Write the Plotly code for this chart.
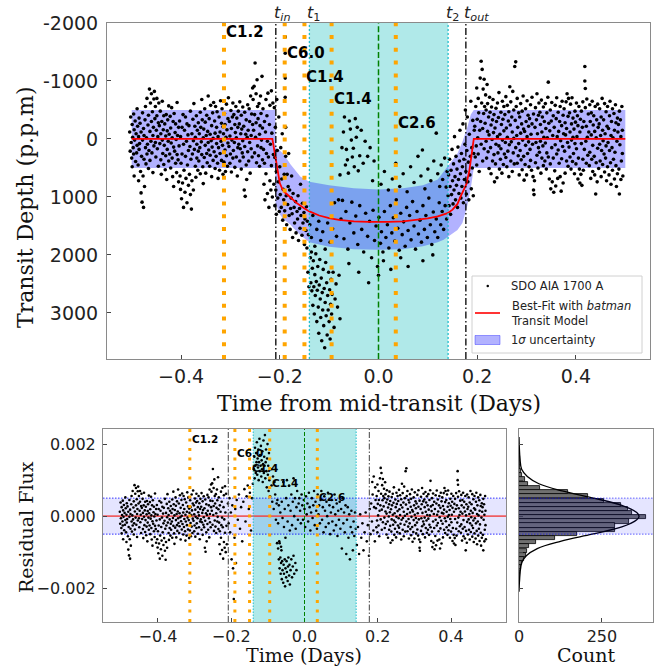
import plotly.graph_objects as go
import numpy as np

# ------------------------------------------------------------------ data
flare_times = [-0.313, -0.190, -0.150, -0.095, 0.035]
flare_classes = ["C1.2", "C6.0", "C1.4", "C1.4", "C2.6"]
flare_label_depth = [-1850, -1480, -1070, -690, -280]
flare_label_resid = [0.00214, 0.00175, 0.00133, 0.00092, 0.00053]

t_in, t_1, t_2, t_out = -0.208, -0.140, 0.141, 0.177
contact_times = [t_in, t_1, t_2, t_out]
contact_labels = ["<i>t</i><sub><i>in</i></sub>", "<i>t</i><sub>1</sub>",
                  "<i>t</i><sub>2</sub>", "<i>t</i><sub><i>out</i></sub>"]

x_ticks = [-0.4, -0.2, 0.0, 0.2, 0.4]
x_tick_text = ["\u22120.4", "\u22120.2", "0.0", "0.2", "0.4"]
depth_ticks = [-2000, -1000, 0, 1000, 2000, 3000]
depth_tick_text = ["-2000", "-1000", "0", "1000", "2000", "3000"]
resid_ticks = [0.002, 0.0, -0.002]
resid_tick_text = ["0.002", "0.000", "\u22120.002"]
count_ticks = [0, 250]

sigma_resid = 0.0005

model_time = [-0.50, -0.215, -0.210, -0.205, -0.200, -0.195, -0.190, -0.178, -0.165, -0.150,
              -0.140, -0.120, -0.100, -0.080, -0.050, -0.020, 0.000, 0.020, 0.050, 0.080,
              0.100, 0.120, 0.140, 0.150, 0.160, 0.166, 0.172, 0.178, 0.184, 0.189, 0.193, 0.50]
model_depth = [0, 0, 250, 520, 760, 860, 920, 1010, 1110, 1200,
               1250, 1320, 1365, 1395, 1420, 1430, 1432, 1430, 1420, 1395,
               1370, 1335, 1280, 1220, 1120, 1000, 900, 780, 550, 250, 0, 0]

band_time = [-0.50, -0.209, -0.2085, -0.200, -0.193, -0.178, -0.172, -0.158, -0.140, -0.100,
             -0.050, 0.000, 0.050, 0.090, 0.120, 0.132, 0.145, 0.160, 0.170, 0.180,
             0.187, 0.193, 0.50]
band_upper = [-500, -500, 140, 200, 250, 440, 500, 650, 740, 800,
              850, 870, 850, 800, 700, 560, 420, 250, 50, -200,
              -420, -500, -500]
band_lower = [500, 500, 1100, 1300, 1380, 1480, 1540, 1660, 1780, 1860,
              1900, 1910, 1900, 1850, 1780, 1740, 1660, 1570, 1450, 1150,
              850, 500, 500]

pre_points = [
 (-0.504,-120),(-0.503,210),(-0.502,-380),(-0.501,60),(-0.500,330),(-0.499,-250),(-0.499,480),(-0.498,-30),(-0.497,150),(-0.496,-430),(-0.496,260),(-0.495,-160),(-0.495,640),
 (-0.494,20),(-0.493,-310),(-0.492,390),(-0.491,-90),(-0.490,240),(-0.489,-520),(-0.489,110),(-0.488,-220),(-0.487,450),(-0.486,-40),(-0.486,720),(-0.485,-360),(-0.485,180),
 (-0.484,80),(-0.483,-270),(-0.482,560),(-0.481,930),(-0.481,-120),(-0.480,300),(-0.479,1090),(-0.478,-450),(-0.478,20),(-0.477,640),(-0.476,-180),(-0.476,1180),(-0.475,350),(-0.475,-60),
 (-0.474,820),(-0.473,-330),(-0.472,150),(-0.472,-560),(-0.471,430),(-0.470,-20),(-0.469,260),(-0.469,-700),(-0.468,90),(-0.467,-240),(-0.466,510),(-0.466,-410),(-0.465,200),
 (-0.464,-860),(-0.463,-130),(-0.463,370),(-0.462,-620),(-0.461,40),(-0.460,-780),(-0.460,-300),(-0.459,240),(-0.458,-470),(-0.457,-60),(-0.457,580),(-0.456,-200),(-0.455,120),(-0.455,-690),
 (-0.454,-820),(-0.453,-350),(-0.452,60),(-0.452,-560),(-0.451,310),(-0.450,-150),(-0.449,-700),(-0.449,-400),(-0.448,170),(-0.447,-40),(-0.446,-280),(-0.446,470),(-0.445,-620),
 (-0.444,-230),(-0.443,80),(-0.442,-480),(-0.441,360),(-0.441,-90),(-0.440,610),(-0.439,-300),(-0.438,20),(-0.438,-650),(-0.437,250),(-0.436,-160),(-0.435,440),(-0.435,-400),
 (-0.434,110),(-0.433,-260),(-0.432,530),(-0.431,-50),(-0.431,290),(-0.430,-420),(-0.429,700),(-0.428,-140),(-0.428,180),(-0.427,-330),(-0.426,40),(-0.425,380),(-0.425,-570),
 (-0.424,-80),(-0.423,260),(-0.422,-390),(-0.421,500),(-0.421,-190),(-0.420,70),(-0.419,-540),(-0.418,330),(-0.418,-20),(-0.417,650),(-0.416,-300),(-0.415,140),(-0.415,820),
 (-0.414,-440),(-0.413,210),(-0.412,-110),(-0.411,420),(-0.411,-260),(-0.410,10),(-0.409,580),(-0.408,-630),(-0.408,270),(-0.407,-60),(-0.406,360),(-0.405,-200),(-0.405,740),
 (-0.404,120),(-0.403,-310),(-0.402,640),(-0.401,870),(-0.401,-40),(-0.400,420),(-0.399,1030),(-0.398,-200),(-0.398,260),(-0.397,760),(-0.396,-420),(-0.395,1180),(-0.395,90),
 (-0.394,540),(-0.393,-150),(-0.392,920),(-0.391,300),(-0.391,-380),(-0.390,680),(-0.389,40),(-0.388,1100),(-0.388,-260),(-0.387,450),(-0.386,-70),(-0.385,800),(-0.385,200),
 (-0.384,-230),(-0.383,610),(-0.382,130),(-0.381,960),(-0.381,-480),(-0.380,350),(-0.379,1210),(-0.378,-90),(-0.378,720),(-0.377,260),(-0.376,-340),(-0.375,880),(-0.375,30),
 (-0.374,-610),(-0.373,180),(-0.372,-220),(-0.371,470),(-0.371,-30),(-0.370,660),(-0.369,-400),(-0.368,90),(-0.368,330),(-0.367,-150),(-0.366,540),(-0.365,-280),(-0.365,210),
 (-0.364,380),(-0.363,-90),(-0.362,150),(-0.361,-460),(-0.361,600),(-0.360,-200),(-0.359,50),(-0.358,-680),(-0.358,270),(-0.357,-330),(-0.356,480),(-0.355,-20),(-0.355,770),
 (-0.354,-170),(-0.353,320),(-0.352,-520),(-0.351,110),(-0.351,-290),(-0.350,590),(-0.349,-60),(-0.348,250),(-0.348,-410),(-0.347,410),(-0.346,-130),(-0.345,60),(-0.345,-740),
 (-0.344,190),(-0.343,-350),(-0.342,470),(-0.341,-80),(-0.341,280),(-0.340,-580),(-0.339,30),(-0.338,650),(-0.338,-230),(-0.337,140),(-0.336,-450),(-0.335,370),(-0.335,-10),
 (-0.334,-630),(-0.333,220),(-0.332,-310),(-0.331,510),(-0.331,-100),(-0.330,-560),(-0.329,300),(-0.328,-200),(-0.328,80),(-0.327,-470),(-0.326,420),(-0.325,-40),(-0.325,680),
 (-0.324,150),(-0.323,-380),(-0.322,540),(-0.321,-120),(-0.321,250),(-0.320,-660),(-0.319,40),(-0.318,-270),(-0.318,370),(-0.317,-520),(-0.316,110),(-0.315,-210),(-0.315,610),
 (-0.314,-90),(-0.313,400),(-0.312,-440),(-0.311,190),(-0.311,-250),(-0.310,560),(-0.309,-30),(-0.308,-600),(-0.308,290),(-0.307,-160),(-0.306,470),(-0.305,-350),(-0.305,70),
 (-0.304,-710),(-0.303,130),(-0.302,-300),(-0.301,420),(-0.301,-50),(-0.300,260),(-0.299,-490),(-0.298,570),(-0.298,-180),(-0.297,20),(-0.296,-380),(-0.295,330),(-0.295,-620),
 (-0.294,200),(-0.293,-420),(-0.292,60),(-0.291,-250),(-0.291,490),(-0.290,-110),(-0.289,-560),(-0.288,310),(-0.288,-20),(-0.287,-360),(-0.286,640),(-0.285,-200),(-0.285,150),
 (-0.284,-480),(-0.283,90),(-0.282,-260),(-0.281,380),(-0.281,-640),(-0.280,170),(-0.279,-90),(-0.278,-410),(-0.278,520),(-0.277,-170),(-0.276,240),(-0.275,-550),(-0.275,30),
 (-0.274,310),(-0.273,-220),(-0.272,880),(-0.271,-460),(-0.271,130),(-0.270,990),(-0.269,-80),(-0.268,450),(-0.268,-330),(-0.267,700),(-0.266,-30),(-0.265,-590),(-0.265,220),
 (-0.264,-150),(-0.263,380),(-0.262,-520),(-0.261,60),(-0.261,-300),(-0.260,590),(-0.259,-740),(-0.258,170),(-0.258,-60),(-0.257,-430),(-0.256,310),(-0.255,-250),(-0.255,-880),
 (-0.254,-680),(-0.253,-150),(-0.252,-910),(-0.251,240),(-0.251,-420),(-0.250,-1310),(-0.249,-30),(-0.248,-780),(-0.248,-280),(-0.247,410),(-0.246,-1020),(-0.245,-560),(-0.245,120),
 (-0.244,-350),(-0.243,290),(-0.242,-610),(-0.241,-80),(-0.241,470),(-0.240,-230),(-0.239,-740),(-0.238,150),(-0.238,-440),(-0.237,20),(-0.236,-1080),(-0.235,360),(-0.235,-190),
 (-0.234,-520),(-0.233,180),(-0.232,780),(-0.231,-300),(-0.231,420),(-0.230,1050),(-0.229,-120),(-0.228,-680),(-0.228,600),(-0.227,250),(-0.226,-400),(-0.225,940),(-0.225,40),
 (-0.224,-790),(-0.223,310),(-0.222,1180),(-0.221,-250),(-0.220,720),(-0.220,-580),(-0.219,90),(-0.218,880),(-0.217,-830),(-0.217,460),(-0.216,-100),(-0.215,1000),(-0.214,-620),(-0.213,270),(-0.212,780),
]

transit_points = [
 (-0.211,-540),(-0.210,320),(-0.210,1150),(-0.209,-200),(-0.208,880),(-0.207,560),(-0.207,1300),(-0.206,-680),(-0.205,200),(-0.204,1020),(-0.203,740),(-0.202,-380),(-0.201,1250),(-0.200,480),
 (-0.199,960),(-0.198,150),(-0.197,1180),(-0.196,690),(-0.195,-90),(-0.194,1400),(-0.193,870),(-0.192,1050),(-0.191,610),(-0.190,1240),(-0.189,-1760),(-0.189,-1480),(-0.189,-1050),(-0.189,-720),
 (-0.188,-200),(-0.188,300),(-0.187,980),(-0.186,1480),(-0.185,610),(-0.184,1130),(-0.183,820),(-0.182,250),(-0.181,1320),(-0.180,880),(-0.179,1560),(-0.178,1200),(-0.177,1020),(-0.176,640),
 (-0.175,1290),(-0.174,1700),(-0.173,940),(-0.171,1180),(-0.170,1450),(-0.168,1080),(-0.167,1620),(-0.165,1250),(-0.164,1380),(-0.163,980),(-0.162,1750),(-0.160,1200),(-0.159,1540),(-0.158,780),
 (-0.157,1320),(-0.155,1660),(-0.154,1110),(-0.153,1450),(-0.151,1270),(-0.150,1820),(-0.149,1380),(-0.147,1580),(-0.146,1170),(-0.145,1880),(-0.144,1420),(-0.143,2300),(-0.142,1650),(-0.141,2550),
 (-0.138,2050),(-0.137,2480),(-0.136,1950),(-0.135,2620),(-0.134,2230),(-0.133,2870),(-0.132,2100),(-0.131,2550),(-0.130,3020),(-0.129,2340),(-0.128,2700),(-0.127,1980),(-0.126,2460),(-0.125,3150),
 (-0.124,2610),(-0.123,2200),(-0.122,2900),(-0.121,3350),(-0.120,2520),(-0.119,2080),(-0.118,2760),(-0.117,3080),(-0.116,2400),(-0.115,3480),(-0.114,2650),(-0.113,2950),(-0.112,2250),(-0.111,3220),
 (-0.110,2580),(-0.109,3600),(-0.108,2820),(-0.107,2130),(-0.106,3050),(-0.105,2480),(-0.104,3380),(-0.103,2700),(-0.102,2950),(-0.101,2300),(-0.100,3150),(-0.099,2600),(-0.098,3450),(-0.097,2850),
 (-0.096,2420),(-0.095,3020),(-0.094,2680),(-0.092,2300),(-0.090,3250),(-0.088,2760),(-0.086,2500),(-0.083,2900),(-0.080,2350),(-0.078,3100),
 (-0.139,1480),(-0.136,1700),(-0.133,1320),(-0.129,1850),(-0.125,1560),(-0.121,1420),(-0.117,1750),(-0.113,1600),(-0.108,1900),(-0.103,1450),(-0.098,1780),(-0.093,1550),(-0.089,1100),(-0.085,1680),(-0.081,1050),
 (-0.078,620),(-0.074,150),(-0.071,-120),(-0.069,-380),(-0.067,450),(-0.065,180),(-0.063,360),(-0.061,590),(-0.059,-310),(-0.057,-170),
 (-0.055,20),(-0.053,310),(-0.051,160),(-0.049,480),(-0.047,-350),(-0.045,-30),(-0.043,-200),(-0.041,550),(-0.038,290),(-0.035,-150),
 (-0.031,420),(-0.027,40),(-0.022,300),(-0.017,150),(-0.012,720),(-0.009,380),
 (-0.076,1380),(-0.073,1060),(-0.070,1720),(-0.066,1250),(-0.062,1900),(-0.058,1450),(-0.054,1090),(-0.050,1620),(-0.046,1330),(-0.042,1820),(-0.038,1150),(-0.034,1560),(-0.030,1950),(-0.026,1280),
 (-0.022,1680),(-0.018,1420),(-0.014,2050),(-0.011,1230),(-0.008,1750),(-0.005,1500),(-0.002,2200),(0.001,1350),(0.004,1800),(0.006,1600),(0.009,1950),(0.012,1250),(0.015,1700),(0.018,1480),
 (0.021,1880),(0.024,1150),(0.027,1620),(0.030,1360),(0.033,1760),(0.036,1050),(0.039,1540),(0.042,1920),(0.045,1280),(0.048,1650),(0.051,1430),(0.054,1850),(0.057,1180),(0.060,1580),
 (0.063,1320),(0.066,1740),(0.069,1080),(0.072,1500),(0.075,1900),(0.078,1250),(0.081,1640),(0.084,1400),(0.087,1780),(0.090,1150),(0.093,1560),(0.096,1320),(0.099,1700),(0.102,1020),
 (0.105,1480),(0.108,1820),(0.111,1260),(0.114,1600),(0.117,1380),(0.120,1700),(0.123,1100),(0.126,1480),(0.129,1250),(0.132,1560),(0.135,1150),(0.138,1380),
 (0.005,780),(0.012,560),(0.020,880),(0.028,690),(0.035,420),(0.043,820),(0.050,600),(0.058,910),(0.065,480),(0.072,750),(0.080,300),(0.086,640),(0.089,190),(0.094,860),
 (0.100,520),(0.106,720),(0.112,380),(0.117,-100),(0.120,600),(0.124,820),(0.127,450),(0.130,700),(0.134,330),(0.137,830),(0.139,560),
 (-0.060,2150),(-0.040,2300),(-0.020,2480),(0.000,2350),(0.010,2100),(0.025,2250),(0.045,2050),(0.060,2200),(0.090,2100),(0.110,2000),
 (0.141,980),(0.142,620),(0.143,1150),(0.144,350),(0.145,820),(0.146,1300),(0.147,540),(0.148,960),(0.149,180),(0.150,720),(0.151,1120),(0.152,430),(0.153,880),(0.154,-40),
 (0.155,650),(0.156,1050),(0.157,300),(0.158,800),(0.159,520),(0.160,1180),(0.161,140),(0.162,700),(0.163,940),(0.164,380),(0.165,-150),(0.166,600),(0.167,1020),(0.168,250),
 (0.169,820),(0.170,480),(0.171,-260),(0.172,1100),(0.173,350),(0.174,700),(0.175,90),(0.176,-500),(0.177,560),(0.178,950),(0.179,200),(0.180,-380),(0.181,740),(0.182,400),
 (0.183,1050),(0.184,-80),(0.185,620),(0.186,300),(0.187,-650),(0.188,860),(0.189,150),(0.190,500),(0.191,-320),(0.192,980),(0.193,250),(0.194,-150),
]

post_points = [
 (0.195,-220),(0.196,310),(0.197,-560),(0.198,120),(0.199,-880),(0.199,450),(0.200,-340),(0.201,-20),(0.202,-700),(0.202,260),(0.203,-450),(0.204,560),(0.205,-150),
 (0.206,-1050),(0.207,-300),(0.208,-1340),(0.208,90),(0.209,-620),(0.210,-1200),(0.211,-180),(0.211,380),(0.212,-860),(0.213,-440),(0.214,-1030),(0.214,170),(0.215,-560),
 (0.216,-270),(0.217,-760),(0.218,40),(0.218,-500),(0.219,330),(0.220,-940),(0.221,-130),(0.221,-610),(0.222,220),(0.223,-380),(0.224,510),(0.224,-70),(0.225,-720),
 (0.226,-460),(0.227,150),(0.228,-240),(0.228,600),(0.229,-550),(0.230,10),(0.231,-330),(0.231,380),(0.232,-680),(0.233,-110),(0.234,270),(0.234,-420),(0.235,740),
 (0.236,-190),(0.237,430),(0.238,-530),(0.238,90),(0.239,-300),(0.240,670),(0.241,-40),(0.241,-620),(0.242,240),(0.243,-370),(0.244,120),(0.244,-800),(0.245,520),
 (0.246,-80),(0.247,350),(0.248,-460),(0.248,170),(0.249,-250),(0.250,590),(0.251,-650),(0.251,20),(0.252,-340),(0.253,440),(0.254,-140),(0.254,-560),(0.255,260),
 (0.256,-420),(0.257,60),(0.258,-730),(0.258,320),(0.259,-190),(0.260,480),(0.261,-580),(0.261,-30),(0.262,210),(0.263,-310),(0.264,650),(0.264,-470),(0.265,100),
 (0.266,-900),(0.267,-240),(0.268,380),(0.268,-640),(0.269,50),(0.270,-380),(0.271,560),(0.271,-120),(0.272,-820),(0.273,240),(0.274,-500),(0.274,-10),(0.275,430),
 (0.276,-1250),(0.277,-320),(0.278,-1330),(0.278,150),(0.279,-560),(0.280,-60),(0.281,420),(0.281,-700),(0.282,-200),(0.283,290),(0.284,-450),(0.284,80),(0.285,620),
 (0.286,-380),(0.287,200),(0.288,-610),(0.288,-100),(0.289,360),(0.290,-260),(0.291,530),(0.291,-480),(0.292,20),(0.293,-740),(0.294,300),(0.294,-170),(0.295,710),
 (0.296,-130),(0.297,440),(0.298,-520),(0.298,110),(0.299,-300),(0.300,620),(0.301,-40),(0.301,-660),(0.302,250),(0.303,-410),(0.304,50),(0.304,-220),(0.305,480),
 (0.306,-350),(0.307,180),(0.308,-590),(0.308,370),(0.309,-80),(0.310,540),(0.311,-260),(0.311,-720),(0.312,90),(0.313,650),(0.314,-430),(0.314,880),(0.315,960),
 (0.316,720),(0.317,-200),(0.318,410),(0.318,-540),(0.319,60),(0.320,-330),(0.321,280),(0.321,-780),(0.322,-90),(0.323,500),(0.324,-410),(0.324,150),(0.325,-620),
 (0.326,230),(0.327,-460),(0.328,40),(0.328,-250),(0.329,590),(0.330,-670),(0.331,-120),(0.331,330),(0.332,-380),(0.333,120),(0.334,-550),(0.334,460),(0.335,-30),
 (0.336,-300),(0.337,380),(0.338,-610),(0.338,70),(0.339,-180),(0.340,520),(0.341,-450),(0.341,240),(0.342,-20),(0.343,-720),(0.344,-980),(0.344,310),(0.345,-270),
 (0.346,690),(0.347,-140),(0.348,430),(0.348,-500),(0.349,860),(0.350,-310),(0.351,150),(0.351,-630),(0.352,740),(0.353,-60),(0.354,330),(0.354,-400),(0.355,920),
 (0.356,-200),(0.357,550),(0.358,-580),(0.358,100),(0.359,810),(0.360,-350),(0.361,260),(0.361,-710),(0.362,-40),(0.363,680),(0.364,-460),(0.364,190),(0.365,-130),
 (0.366,420),(0.367,-300),(0.368,650),(0.368,-560),(0.369,30),(0.370,900),(0.371,-230),(0.371,340),(0.372,-650),(0.373,130),(0.374,-410),(0.374,760),(0.375,-90),
 (0.376,-520),(0.377,210),(0.378,-280),(0.378,590),(0.379,-70),(0.380,-640),(0.381,380),(0.381,-180),(0.382,-780),(0.383,60),(0.384,470),(0.384,-390),(0.385,-700),
 (0.386,140),(0.387,-450),(0.388,310),(0.388,-120),(0.389,-600),(0.390,520),(0.391,-260),(0.391,20),(0.392,-710),(0.393,390),(0.394,-30),(0.394,-360),(0.395,250),
 (0.396,-170),(0.397,600),(0.398,-480),(0.398,80),(0.399,-290),(0.400,430),(0.401,-620),(0.401,170),(0.402,-40),(0.403,-400),(0.404,690),(0.404,-230),(0.405,330),
 (0.406,-560),(0.407,520),(0.408,-120),(0.408,760),(0.409,-340),(0.410,610),(0.411,80),(0.411,-480),(0.412,800),(0.413,-200),(0.414,350),(0.414,-640),(0.415,540),
 (0.416,-300),(0.417,180),(0.418,-1250),(0.418,-1000),(0.419,-870),(0.419,-540),(0.420,40),(0.421,-220),(0.421,420),(0.422,-690),(0.423,-30),(0.424,280),(0.425,-430),
 (0.426,-120),(0.427,460),(0.428,-590),(0.428,230),(0.429,-300),(0.430,680),(0.431,-70),(0.431,-450),(0.432,350),(0.433,-650),(0.434,110),(0.434,560),(0.435,-240),
 (0.436,-400),(0.437,300),(0.438,-130),(0.438,620),(0.439,-560),(0.440,950),(0.441,-20),(0.441,410),(0.442,-330),(0.443,740),(0.444,-600),(0.444,160),(0.445,-200),
 (0.446,510),(0.447,-260),(0.448,90),(0.448,-520),(0.449,380),(0.450,-60),(0.451,650),(0.451,-380),(0.452,200),(0.453,-700),(0.454,440),(0.454,-150),(0.455,30),
 (0.456,-330),(0.457,260),(0.458,-610),(0.458,570),(0.459,-90),(0.460,330),(0.461,-470),(0.461,120),(0.462,720),(0.463,-220),(0.464,480),(0.464,-560),(0.465,60),
 (0.466,-180),(0.467,620),(0.468,-400),(0.468,200),(0.469,-650),(0.470,410),(0.471,-60),(0.471,780),(0.472,-300),(0.473,150),(0.474,-520),(0.474,540),(0.475,-20),
 (0.476,350),(0.477,-440),(0.478,690),(0.478,-150),(0.479,230),(0.480,-590),(0.481,460),(0.481,-280),(0.482,820),(0.483,40),(0.484,-360),(0.484,600),(0.485,-120),
 (0.486,-250),(0.487,520),(0.488,-480),(0.488,950),(0.489,100),(0.490,-330),(0.491,700),(0.491,-40),(0.492,380),(0.493,-560),(0.494,250),(0.494,-150),(0.495,640),
]

resid_transit_points = [
 (-0.209,0.00035),(-0.207,-0.00020),(-0.205,0.00050),(-0.203,-0.00045),(-0.201,0.00010),(-0.199,-0.00120),(-0.197,0.00030),(-0.195,-0.00145),(-0.193,-0.00230),(-0.191,-0.00060),
 (-0.189,0.00020),(-0.187,-0.00130),(-0.185,0.00045),(-0.182,-0.00010),(-0.179,0.00060),(-0.176,-0.00035),(-0.173,0.00025),(-0.170,-0.00070),(-0.167,0.00040),(-0.164,0.00075),
 (-0.161,-0.00015),(-0.158,0.00055),(-0.155,0.00085),(-0.152,0.00020),(-0.149,0.00065),(-0.146,-0.00040),(-0.143,0.00050),(-0.141,0.00090),
 (-0.138,0.00130),(-0.137,0.00165),(-0.136,0.00105),(-0.135,0.00190),(-0.134,0.00140),(-0.133,0.00120),(-0.132,0.00175),(-0.131,0.00150),(-0.130,0.00205),(-0.129,0.00115),
 (-0.128,0.00160),(-0.127,0.00135),(-0.126,0.00185),(-0.125,0.00100),(-0.124,0.00150),(-0.123,0.00215),(-0.122,0.00125),(-0.121,0.00170),(-0.120,0.00140),(-0.119,0.00195),
 (-0.118,0.00110),(-0.117,0.00155),(-0.116,0.00130),(-0.115,0.00180),(-0.114,0.00095),(-0.113,0.00145),(-0.112,0.00210),(-0.111,0.00120),(-0.110,0.00165),(-0.109,0.00140),
 (-0.108,0.00225),(-0.107,0.00105),(-0.106,0.00150),(-0.105,0.00185),(-0.104,0.00125),(-0.103,0.00080),(-0.102,0.00160),(-0.101,0.00200),(-0.100,0.00115),(-0.099,0.00140),
 (-0.098,0.00070),(-0.097,0.00175),(-0.096,0.00100),(-0.094,0.00055),(-0.092,0.00130),(-0.090,0.00085),(-0.088,0.00040),(-0.086,0.00110),(-0.084,0.00020),(-0.082,0.00095),
 (-0.080,0.00060),(-0.078,-0.00010),(-0.076,0.00035),
 (-0.074,0.00045),(-0.072,-0.00020),(-0.070,0.00030),(-0.068,-0.00075),(-0.066,0.00010),(-0.064,-0.00085),(-0.062,0.00040),(-0.060,-0.00005),(-0.058,0.00095),(-0.056,-0.00030),
 (-0.054,0.00020),(-0.052,-0.00060),(-0.050,0.00050),(-0.048,0.00100),(-0.046,-0.00015),(-0.044,0.00030),(-0.042,0.00085),(-0.040,-0.00040),(-0.038,0.00015),(-0.036,0.00060),
 (-0.034,-0.00025),(-0.032,0.00040),(-0.030,0.00105),(-0.028,0.00000),(-0.026,0.00050),(-0.024,-0.00035),(-0.022,0.00025),(-0.020,0.00070),(-0.018,-0.00010),(-0.016,0.00035),
 (-0.075,-0.00075),(-0.072,-0.00090),(-0.069,-0.00070),(-0.063,-0.00095),
 (-0.070,-0.00120),(-0.068,-0.00145),(-0.066,-0.00115),(-0.065,-0.00160),(-0.064,-0.00130),(-0.062,-0.00175),(-0.061,-0.00125),(-0.060,-0.00150),(-0.058,-0.00185),(-0.057,-0.00135),
 (-0.056,-0.00160),(-0.054,-0.00120),(-0.053,-0.00195),(-0.052,-0.00145),(-0.050,-0.00170),(-0.049,-0.00125),(-0.048,-0.00155),(-0.046,-0.00180),(-0.045,-0.00140),(-0.044,-0.00115),
 (-0.042,-0.00165),(-0.041,-0.00135),(-0.040,-0.00190),(-0.038,-0.00150),(-0.036,-0.00120),(-0.034,-0.00170),(-0.032,-0.00140),(-0.030,-0.00110),(-0.028,-0.00160),(-0.025,-0.00130),(-0.022,-0.00150),
 (-0.014,0.00050),(-0.012,0.00015),(-0.010,-0.00020),(-0.008,0.00060),(-0.006,0.00030),(-0.004,-0.00010),(-0.002,0.00045),(0.000,0.00020),(0.002,-0.00030),(0.004,0.00055),
 (0.006,0.00005),(0.008,0.00035),(0.010,-0.00015),(0.012,0.00065),(0.014,0.00025),(0.016,-0.00040),(0.018,0.00010),(0.020,0.00050),(0.022,-0.00005),(0.024,0.00030),
 (0.026,0.00070),(0.028,-0.00025),(0.030,0.00040),(0.032,0.00015),(0.034,-0.00035),(0.036,0.00060),(0.038,0.00005),(0.040,0.00030),(0.042,-0.00020),(0.044,0.00045),
 (0.046,0.00070),(0.048,-0.00010),(0.050,0.00025),(0.052,-0.00045),(0.054,0.00055),(0.056,0.00015),(0.058,-0.00030),(0.060,0.00040),(0.062,0.00000),(0.064,0.00065),
 (0.066,-0.00020),(0.068,0.00030),(0.070,-0.00050),(0.072,0.00010),(0.074,0.00045),(0.076,-0.00015),(0.078,0.00025),(0.080,-0.00040),(0.082,0.00060),(0.084,0.00005),
 (0.086,-0.00025),(0.088,0.00035),(0.090,-0.00055),(0.092,0.00015),(0.094,-0.00010),(0.096,0.00040),(0.098,-0.00035),(0.100,0.00020),(0.102,-0.00090),(0.104,0.00050),
 (0.106,-0.00020),(0.108,0.00010),(0.110,-0.00045),(0.112,0.00030),(0.114,-0.00105),(0.116,-0.00010),(0.118,0.00025),(0.120,-0.00060),(0.122,0.00005),(0.124,-0.00120),
 (0.126,-0.00030),(0.128,0.00015),(0.130,-0.00045),(0.132,-0.00095),(0.134,-0.00015),(0.136,-0.00055),(0.138,0.00010),(0.140,-0.00035),
 (0.143,-0.00080),(0.146,-0.00030),(0.149,-0.00105),(0.152,0.00005),(0.155,-0.00060),(0.158,-0.00020),(0.161,-0.00095),(0.164,-0.00045),(0.167,0.00010),(0.170,-0.00070),
 (0.173,-0.00025),(0.176,-0.00110),(0.178,0.00020),(0.180,-0.00050),(0.182,0.00035),(0.184,-0.00015),(0.186,0.00060),(0.188,-0.00040),(0.190,0.00025),(0.192,-0.00070),
 (0.194,0.00045),(0.185,0.00095),(0.189,0.00110),(0.193,0.00080),
]

hist_flux = [0.00183, 0.00171, 0.00160, 0.00148, 0.00137, 0.00125, 0.00113, 0.00102, 0.00090, 0.00078,
             0.00067, 0.00055, 0.00043, 0.00032, 0.00020, 0.00009, -0.00003, -0.00015, -0.00026, -0.00038,
             -0.00049, -0.00061, -0.00072, -0.00084, -0.00096, -0.00107, -0.00119, -0.00130, -0.00142, -0.00154,
             -0.00165, -0.00177, -0.00188, -0.00200]
hist_count = [1, 1, 2, 2, 3, 5, 10, 18, 28, 62,
              148, 208, 255, 308, 328, 340, 383, 333, 290, 288,
              175, 108, 52, 30, 25, 20, 15, 10, 5, 3,
              2, 2, 1, 1]

gauss_flux = [0.0022, 0.0016, 0.0013, 0.0011, 0.0009, 0.0007, 0.0005, 0.0003, 0.0001, 0.0,
              -0.0001, -0.0003, -0.0005, -0.0007, -0.0009, -0.0011, -0.0013, -0.0016, -0.0021]
gauss_count = [0, 3, 8, 25, 60, 130, 225, 310, 355, 362,
               355, 310, 220, 125, 55, 22, 8, 3, 0]

# ------------------------------------------------------------------ layout helpers
W, H = 665, 668
def px(xp):
    return xp / W
def py(yp):
    return 1 - yp / H

pre_time, pre_depth = map(list, zip(*pre_points))
tr_time, tr_depth = map(list, zip(*transit_points))
post_time, post_depth = map(list, zip(*post_points))
top_time = pre_time + tr_time + post_time
top_depth = pre_depth + tr_depth + post_depth

# residuals outside transit: model is zero there, residual flux = -depth
out_time = pre_time + post_time
out_resid = [-d * 1e-6 for d in pre_depth + post_depth]
rt_time, rt_resid = map(list, zip(*resid_transit_points))
bot_time = out_time + rt_time
bot_resid = out_resid + rt_resid

fig = go.Figure()

fig.add_trace(go.Scatter(x=band_time, y=band_lower, mode="lines", line=dict(width=0),
                         showlegend=False, hoverinfo="skip", xaxis="x", yaxis="y"))
fig.add_trace(go.Scatter(x=band_time, y=band_upper, mode="lines", line=dict(width=0),
                         fill="tonexty", fillcolor="rgba(0,0,255,0.3)",
                         showlegend=False, hoverinfo="skip", xaxis="x", yaxis="y"))
fig.add_trace(go.Scatter(x=top_time, y=top_depth, mode="markers",
                         marker=dict(color="black", size=3.6, line=dict(width=0)),
                         showlegend=False, xaxis="x", yaxis="y"))
fig.add_trace(go.Scatter(x=model_time, y=model_depth, mode="lines",
                         line=dict(color="red", width=1.8),
                         showlegend=False, xaxis="x", yaxis="y"))

fig.add_trace(go.Scatter(x=[-0.55, 0.55], y=[0, 0], mode="lines",
                         line=dict(color="rgba(240,60,60,0.8)", width=1.6),
                         showlegend=False, xaxis="x2", yaxis="y2"))
fig.add_trace(go.Scatter(x=bot_time, y=bot_resid, mode="markers",
                         marker=dict(color="black", size=2.6, line=dict(width=0)),
                         showlegend=False, xaxis="x2", yaxis="y2"))

fig.add_trace(go.Bar(x=hist_count, y=hist_flux, orientation="h", width=0.000116,
                     marker=dict(color="rgb(112,112,112)", line=dict(color="black", width=0.8)),
                     showlegend=False, xaxis="x3", yaxis="y3"))
fig.add_trace(go.Scatter(x=gauss_count, y=gauss_flux, mode="lines", line_shape="spline",
                         line=dict(color="black", width=1.3),
                         showlegend=False, xaxis="x3", yaxis="y3"))

shapes = []
shapes.append(dict(type="rect", xref="x", yref="y domain", x0=t_1, x1=t_2, y0=0, y1=1,
                   fillcolor="rgb(176,233,233)", line=dict(width=0), layer="below"))
shapes.append(dict(type="rect", xref="x2", yref="y2 domain", x0=t_1, x1=t_2, y0=0, y1=1,
                   fillcolor="rgb(176,233,233)", line=dict(width=0), layer="below"))
shapes.append(dict(type="rect", xref="x2 domain", yref="y2", x0=0, x1=1,
                   y0=-sigma_resid, y1=sigma_resid,
                   fillcolor="rgba(0,0,255,0.1)", line=dict(width=0), layer="below"))
for s in (-sigma_resid, sigma_resid):
    shapes.append(dict(type="line", xref="x2 domain", yref="y2", x0=0, x1=1, y0=s, y1=s,
                       line=dict(color="rgba(0,0,255,0.8)", width=1, dash="1.5px,1.5px"), layer="below"))
    shapes.append(dict(type="line", xref="x3 domain", yref="y3", x0=0, x1=1, y0=s, y1=s,
                       line=dict(color="rgba(0,0,255,0.6)", width=1, dash="1.5px,1.5px"), layer="above"))
shapes.append(dict(type="rect", xref="x3 domain", yref="y3", x0=0, x1=1,
                   y0=-sigma_resid, y1=sigma_resid,
                   fillcolor="rgba(0,0,255,0.1)", line=dict(width=0), layer="above"))

def vline(x, xr, yr, color, width, dash):
    return dict(type="line", xref=xr, yref=yr, x0=x, x1=x, y0=0, y1=1,
                line=dict(color=color, width=width, dash=dash), layer="above")

for t in (t_1, t_2):
    shapes.append(vline(t, "x", "y domain", "#22bfcc", 1.3, "2px,2px"))
    shapes.append(vline(t, "x2", "y2 domain", "#22bfcc", 1.0, "1.5px,1.5px"))
for t in flare_times:
    shapes.append(vline(t, "x", "y domain", "#ffa500", 4, "4px,8.8px"))
    shapes.append(vline(t, "x2", "y2 domain", "#ffa500", 3, "3px,6.5px"))
for t in (t_in, t_out):
    shapes.append(vline(t, "x", "y domain", "black", 1.3, "7px,2.5px,1.5px,2.5px"))
    shapes.append(vline(t, "x2", "y2 domain", "#555555", 1.1, "6px,2px,1.5px,2px"))
shapes.append(vline(0.0, "x", "y domain", "green", 1.5, "6px,2.6px"))
shapes.append(vline(0.0, "x2", "y2 domain", "green", 1.0, "4px,2px"))

shapes.append(dict(type="rect", xref="paper", yref="paper", x0=px(472), x1=px(642),
                   y0=py(353), y1=py(276), fillcolor="rgba(255,255,255,0.85)",
                   line=dict(color="#d0d0d0", width=1), layer="above"))
shapes.append(dict(type="circle", xref="paper", yref="paper", x0=px(486.5), x1=px(489),
                   y0=py(287.3), y1=py(284.8), fillcolor="black", line=dict(width=0), layer="above"))
shapes.append(dict(type="line", xref="paper", yref="paper", x0=px(475), x1=px(500),
                   y0=py(313), y1=py(313), line=dict(color="red", width=1.6), layer="above"))
shapes.append(dict(type="rect", xref="paper", yref="paper", x0=px(475), x1=px(500),
                   y0=py(344.5), y1=py(335.5), fillcolor="rgba(0,0,255,0.3)",
                   line=dict(color="rgba(0,0,255,0.35)", width=1), layer="above"))

annotations = []
lab_font = dict(family="DejaVu Sans", size=11.5, color="#222")
annotations.append(dict(xref="paper", yref="paper", x=px(509), y=py(286), text="SDO AIA 1700 A",
                        showarrow=False, xanchor="left", yanchor="middle", font=lab_font))
annotations.append(dict(xref="paper", yref="paper", x=px(509), y=py(313),
                        text="Best-Fit with <i>batman</i><br>Transit Model", align="left",
                        showarrow=False, xanchor="left", yanchor="middle", font=lab_font))
annotations.append(dict(xref="paper", yref="paper", x=px(509), y=py(340), text="1<i>σ</i> uncertainty",
                        showarrow=False, xanchor="left", yanchor="middle", font=lab_font))

for t, lab, yd, yr in zip(flare_times, flare_classes, flare_label_depth, flare_label_resid):
    annotations.append(dict(xref="x", yref="y", x=t, y=yd, text="<b>" + lab + "</b>",
                            showarrow=False, xanchor="left", yanchor="middle", xshift=0,
                            font=dict(family="DejaVu Sans", size=15, color="black")))
    annotations.append(dict(xref="x2", yref="y2", x=t, y=yr, text="<b>" + lab + "</b>",
                            showarrow=False, xanchor="left", yanchor="middle", xshift=0,
                            font=dict(family="DejaVu Sans", size=10.5, color="black")))

for t, lab in zip(contact_times, contact_labels):
    annotations.append(dict(xref="x", yref="paper", x=t, y=py(13), text=lab, showarrow=False,
                            xanchor="left", yanchor="middle", xshift=-4,
                            font=dict(family="DejaVu Sans", size=16, color="#222")))

serif = "DejaVu Serif"
annotations.append(dict(xref="paper", yref="paper", x=px(25), y=py(207), text="Transit Depth (p.p.m)",
                        textangle=-90, showarrow=False, xanchor="center", yanchor="middle",
                        font=dict(family=serif, size=22, color="#111")))
annotations.append(dict(xref="paper", yref="paper", x=px(379), y=py(403), text="Time from mid-transit (Days)",
                        showarrow=False, xanchor="center", yanchor="middle",
                        font=dict(family=serif, size=22, color="#111")))
annotations.append(dict(xref="paper", yref="paper", x=px(26), y=py(527), text="Residual Flux",
                        textangle=-90, showarrow=False, xanchor="center", yanchor="middle",
                        font=dict(family=serif, size=19, color="#111")))
annotations.append(dict(xref="paper", yref="paper", x=px(304), y=py(655), text="Time (Days)",
                        showarrow=False, xanchor="center", yanchor="middle",
                        font=dict(family=serif, size=19, color="#111")))
annotations.append(dict(xref="paper", yref="paper", x=px(586), y=py(655), text="Count",
                        showarrow=False, xanchor="center", yanchor="middle",
                        font=dict(family=serif, size=19, color="#111")))

axis_common = dict(showline=True, linecolor="#8a8a8a", linewidth=1, mirror=True,
                   showgrid=False, zeroline=False, ticks="inside", tickcolor="#444",
                   ticklen=4, tickwidth=1, automargin=False)

fig.update_layout(
    width=W, height=H, autosize=False,
    margin=dict(l=0, r=0, t=0, b=0, pad=0),
    paper_bgcolor="white", plot_bgcolor="white",
    font=dict(family="DejaVu Sans", color="#222"),
    showlegend=False,
    xaxis=dict(domain=[px(107), px(650)], range=[-0.55, 0.55], anchor="y",
               tickvals=x_ticks, ticktext=x_tick_text, ticklabelstandoff=0,
               tickfont=dict(size=19, color="#222"), **axis_common),
    yaxis=dict(domain=[py(359), py(23)], range=[3795, -2000], anchor="x",
               tickvals=depth_ticks, ticktext=depth_tick_text, ticklabelstandoff=4,
               tickfont=dict(size=19, color="#222"), **axis_common),
    xaxis2=dict(domain=[px(103), px(506)], range=[-0.55, 0.55], anchor="y2",
                tickvals=x_ticks, ticktext=x_tick_text, ticklabelstandoff=0,
                tickfont=dict(size=16, color="#222"), **axis_common),
    yaxis2=dict(domain=[py(622), py(429)], range=[-0.00294, 0.00242], anchor="x2",
                tickvals=resid_ticks, ticktext=resid_tick_text, ticklabelstandoff=3,
                tickfont=dict(size=16, color="#222"), **axis_common),
    xaxis3=dict(domain=[px(519), px(653)], range=[0, 404], anchor="y3",
                tickvals=count_ticks, ticklabelstandoff=0,
                tickfont=dict(size=16, color="#222"), **axis_common),
    yaxis3=dict(domain=[py(622), py(429)], range=[-0.00294, 0.00242], anchor="x3",
                showticklabels=False, **axis_common),
    shapes=shapes,
    annotations=annotations,
    bargap=0,
)

fig.write_html("out.html")
